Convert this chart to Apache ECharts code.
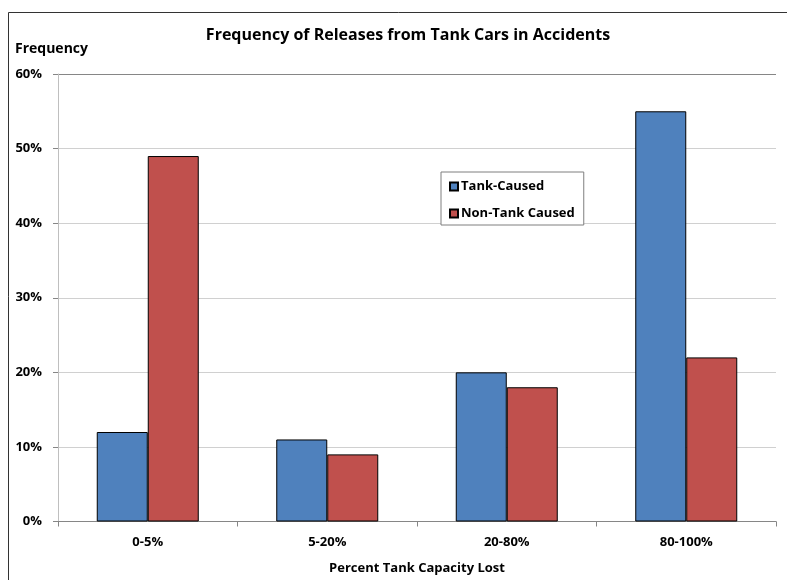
<!DOCTYPE html>
<html>
<head>
<meta charset="utf-8">
<script src="https://cdn.jsdelivr.net/npm/echarts@6/dist/echarts.min.js"></script>
<style>
  html, body { margin: 0; padding: 0; background: #fff; }
  #chart { width: 787px; height: 580px; }
</style>
</head>
<body>
<div id="chart"></div>
<script>
// Share of releases by percent of tank capacity lost
const categories = ['0-5%', '5-20%', '20-80%', '80-100%'];
const tankCaused = [12, 11, 20, 55];
const nonTankCaused = [49, 9, 18, 22];
const seriesNames = ['Tank-Caused', 'Non-Tank Caused'];

const FONT = '"Open Sans", "Noto Sans", sans-serif';
const chart = echarts.init(document.getElementById('chart'), null, { renderer: 'canvas' });

chart.setOption({
  animation: false,
  backgroundColor: '#ffffff',
  title: {
    text: 'Frequency of Releases from Tank Cars in Accidents',
    left: 403,
    textAlign: 'center',
    top: 22,
    textStyle: { fontFamily: FONT, fontWeight: 'bold', fontSize: 16, color: '#000' }
  },
  graphic: [
    {
      type: 'rect',
      shape: { x: 8.5, y: 12.5, width: 820, height: 620 },
      style: { fill: null, stroke: '#333', lineWidth: 1 },
      silent: true
    },
    {
      type: 'text',
      left: 15,
      top: 42,
      style: { text: 'Frequency', fontFamily: FONT, fontWeight: 'bold', fontSize: 14, fill: '#000' }
    }
  ],
  legend: {
    orient: 'vertical',
    left: 441,
    top: 172,
    itemWidth: 8,
    itemHeight: 8,
    itemGap: 14,
    padding: [8, 9, 5, 8],
    borderColor: '#7f7f7f',
    borderWidth: 1,
    backgroundColor: '#fff',
    icon: 'rect',
    textStyle: { fontFamily: FONT, fontWeight: 'bold', fontSize: 13, color: '#000', padding: [0, 0, 0, -2] },
    data: seriesNames
  },
  grid: { left: 58, right: 11, top: 74, bottom: 58.5, containLabel: false },
  xAxis: {
    type: 'category',
    data: categories,
    name: 'Percent Tank Capacity Lost',
    nameLocation: 'middle',
    nameGap: 40,
    nameTextStyle: { fontFamily: FONT, fontWeight: 'bold', fontSize: 13, color: '#000' },
    axisLine: { lineStyle: { color: '#868686', width: 1 } },
    axisTick: { show: true, length: 5, lineStyle: { color: '#868686' } },
    axisLabel: { fontFamily: FONT, fontWeight: 'bold', fontSize: 13, color: '#000', margin: 14 }
  },
  yAxis: {
    type: 'value',
    min: 0,
    max: 60,
    interval: 10,
    axisLine: { show: true, lineStyle: { color: '#bfbfbf' } },
    axisTick: { show: true, length: 5, lineStyle: { color: '#868686' } },
    axisLabel: {
      formatter: '{value}%',
      fontFamily: FONT, fontWeight: 'bold', fontSize: 13, color: '#000', margin: 16
    },
    splitLine: {
      show: true,
      lineStyle: { color: ['#d0d0d0', '#d0d0d0', '#d0d0d0', '#d0d0d0', '#d0d0d0', '#d0d0d0', '#868686'], width: 1 }
    }
  },
  series: [
    {
      name: seriesNames[0],
      type: 'bar',
      data: tankCaused,
      barWidth: 51,
      barGap: '0%',
      itemStyle: { color: '#4F81BD', borderColor: '#000', borderWidth: 1 }
    },
    {
      name: seriesNames[1],
      type: 'bar',
      data: nonTankCaused,
      barWidth: 51,
      barGap: '0%',
      itemStyle: { color: '#C0504D', borderColor: '#000', borderWidth: 1 }
    }
  ]
});
</script>
</body>
</html>
